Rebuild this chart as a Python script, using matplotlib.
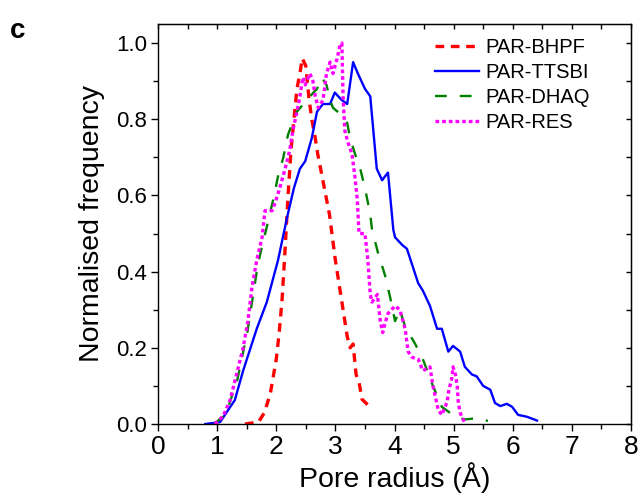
import matplotlib
matplotlib.use('Agg')
import matplotlib.pyplot as plt
from matplotlib.ticker import MultipleLocator

plt.rcParams['font.family'] = ['Liberation Sans', 'DejaVu Sans']

# PAR-BHPF
bhpf_x = [1.47, 1.70, 1.80, 1.90, 2.00, 2.05, 2.10, 2.15, 2.20, 2.25, 2.30, 2.35, 2.40, 2.44,
          2.50, 2.55, 2.60, 2.65, 2.70, 2.80, 2.90, 3.00, 3.10, 3.20, 3.25, 3.30, 3.35, 3.40,
          3.45, 3.55, 3.62]
bhpf_y = [0.0, 0.005, 0.03, 0.08, 0.17, 0.24, 0.33, 0.46, 0.60, 0.72, 0.80, 0.88, 0.92, 0.96,
          0.94, 0.86, 0.80, 0.76, 0.71, 0.63, 0.55, 0.43, 0.33, 0.23, 0.20, 0.21, 0.13, 0.11,
          0.065, 0.05, 0.04]

# PAR-TTSBI
ttsbi_x = [0.80, 1.05, 1.30, 1.44, 1.67, 1.84, 2.03, 2.18, 2.30, 2.40, 2.49, 2.60, 2.69, 2.79,
           2.91, 2.99, 3.11, 3.20, 3.30, 3.38, 3.50, 3.59, 3.70, 3.79, 3.89, 3.98, 4.01, 4.13,
           4.21, 4.40, 4.48, 4.60, 4.72, 4.80, 4.91, 4.99, 5.11, 5.19, 5.31, 5.39, 5.50, 5.62,
           5.70, 5.79, 5.90, 5.99, 6.09, 6.24, 6.41]
ttsbi_y = [0.0, 0.005, 0.063, 0.14, 0.25, 0.32, 0.43, 0.54, 0.62, 0.67, 0.69, 0.75, 0.82, 0.84,
           0.84, 0.87, 0.85, 0.84, 0.95, 0.92, 0.88, 0.86, 0.67, 0.64, 0.66, 0.51, 0.49, 0.47,
           0.46, 0.37, 0.35, 0.31, 0.25, 0.25, 0.19, 0.205, 0.19, 0.15, 0.13, 0.125, 0.10, 0.09,
           0.055, 0.047, 0.053, 0.045, 0.024, 0.019, 0.009]

# PAR-DHAQ
dhaq_x = [0.95, 1.10, 1.20, 1.34, 1.51, 1.61, 1.69, 1.78, 1.86, 1.95, 2.03, 2.12, 2.20, 2.35,
          2.57, 2.69, 2.77, 2.85, 2.91, 2.96, 3.11, 3.20, 3.25, 3.33, 3.42, 3.50, 3.59, 3.62,
          3.72, 3.84, 3.93, 4.01, 4.09, 4.18, 4.35, 4.48, 4.65, 4.80, 5.03, 5.19, 5.39, 5.58]
dhaq_y = [0.0, 0.02, 0.05, 0.115, 0.24, 0.34, 0.42, 0.48, 0.53, 0.59, 0.65, 0.70, 0.76, 0.82,
          0.86, 0.88, 0.91, 0.89, 0.85, 0.83, 0.81, 0.79, 0.75, 0.71, 0.67, 0.62, 0.55, 0.51,
          0.45, 0.39, 0.33, 0.27, 0.30, 0.255, 0.21, 0.17, 0.10, 0.045, 0.019, 0.012, 0.015,
          0.008]

# PAR-RES
res_x = [0.96, 1.10, 1.22, 1.36, 1.44, 1.52, 1.59, 1.67, 1.76, 1.81, 1.93, 1.98, 2.06, 2.15,
         2.23, 2.28, 2.35, 2.40, 2.45, 2.49, 2.57, 2.62, 2.66, 2.71, 2.79, 2.85, 2.91, 2.96,
         3.03, 3.08, 3.11, 3.13, 3.16, 3.21, 3.28, 3.33, 3.37, 3.40, 3.50, 3.55, 3.59, 3.62,
         3.71, 3.76, 3.80, 3.84, 3.89, 4.01, 4.09, 4.18, 4.23, 4.30, 4.40, 4.48, 4.60, 4.65,
         4.74, 4.80, 4.89, 4.92, 4.97, 4.99, 5.03, 5.06, 5.08, 5.11, 5.14, 5.19]
res_y = [0.0, 0.02, 0.063, 0.15, 0.20, 0.27, 0.36, 0.43, 0.49, 0.56, 0.56, 0.58, 0.62, 0.67,
         0.72, 0.77, 0.82, 0.86, 0.91, 0.89, 0.92, 0.90, 0.86, 0.83, 0.85, 0.92, 0.95, 0.92,
         0.96, 0.995, 1.0, 0.86, 0.77, 0.74, 0.71, 0.65, 0.59, 0.50, 0.50, 0.43, 0.34, 0.32,
         0.34, 0.27, 0.24, 0.265, 0.29, 0.31, 0.30, 0.25, 0.19, 0.175, 0.17, 0.14, 0.15, 0.10,
         0.037, 0.024, 0.058, 0.09, 0.12, 0.15, 0.13, 0.10, 0.055, 0.03, 0.018, 0.003]

fig = plt.figure(figsize=(6.43, 5.0), dpi=100)
ax = fig.add_axes([158 / 643, 76 / 500, 473 / 643, 400 / 500])

ax.plot(bhpf_x, bhpf_y, color='#ff0000', lw=2.4, dashes=(2.6, 2.0), label='PAR-BHPF')
ax.plot(ttsbi_x, ttsbi_y, color='#0000ff', lw=1.7, label='PAR-TTSBI')
ax.plot(dhaq_x, dhaq_y, color='#008000', lw=1.7, dashes=(5.0, 5.5), label='PAR-DHAQ')
ax.plot(res_x, res_y, color='#ff00ff', lw=2.4, dashes=(1.1, 0.9), label='PAR-RES')

ax.set_xlim(0, 8)
ax.set_ylim(0, 1.05)
ax.xaxis.set_major_locator(MultipleLocator(1))
ax.xaxis.set_minor_locator(MultipleLocator(0.5))
ax.yaxis.set_major_locator(MultipleLocator(0.2))
ax.yaxis.set_minor_locator(MultipleLocator(0.1))
ax.yaxis.set_major_formatter(plt.FormatStrFormatter('%.1f'))
for s in ax.spines.values():
    s.set_linewidth(1.0)
ax.tick_params(which='both', direction='out', width=1.0)
ax.tick_params(which='major', length=5)
ax.tick_params(which='minor', length=3.5)
ax.tick_params(axis='x', labelsize=19, pad=3)
ax.tick_params(axis='y', labelsize=16, pad=3)

# top and right ticks point inward
top = ax.secondary_xaxis('top')
top.xaxis.set_major_locator(MultipleLocator(0.5))
top.tick_params(direction='in', length=3.5, width=1.0, labeltop=False)
right = ax.secondary_yaxis('right')
right.yaxis.set_major_locator(MultipleLocator(0.1))
right.tick_params(direction='in', length=3.5, width=1.0, labelright=False)

ax.set_xlabel('Pore radius (Å)', fontsize=20.5, labelpad=2)
ax.set_ylabel('Normalised frequency', fontsize=20.5, labelpad=8)

ax.legend(loc='upper left', bbox_to_anchor=(0.585, 0.965), frameon=False, fontsize=14.5,
          handlelength=2.2, handletextpad=0.3, labelspacing=0.3, borderpad=0,
          borderaxespad=0)

fig.text(0.016, 0.965, 'c', fontsize=20, fontweight='bold', va='top')

fig.savefig('out.png', dpi=100)
